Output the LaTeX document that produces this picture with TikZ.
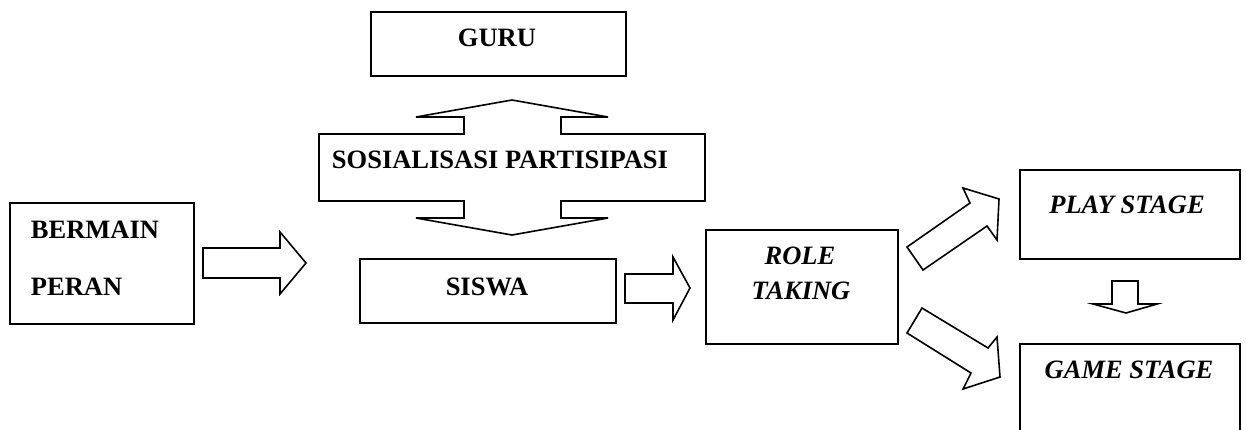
\documentclass[tikz,border=0pt]{standalone}
\usepackage{fontspec}
\setmainfont{Liberation Serif}
\begin{document}
\begin{tikzpicture}[x=1pt,y=-1pt,
  line width=1.8pt,
  box/.style={draw=black, line width=1.8pt, inner sep=0pt, anchor=north west},
  blockarrow/.style={draw=black, fill=white, line width=1.6pt, line join=miter},
  lbl/.style={inner sep=0pt, font=\fontsize{26.5}{30}\selectfont\bfseries},
  ilbl/.style={inner sep=0pt, font=\fontsize{26.5}{30}\selectfont\bfseries\itshape}]
\path[use as bounding box] (0,0) rectangle (1246,429);
\clip (0,0) rectangle (1246,429);
% boxes
\node[box, minimum width=255pt, minimum height=64pt] (guru) at (370,11) {};
\node[box, minimum width=184pt, minimum height=121pt] (bermain) at (9,202) {};
\node[box, minimum width=256pt, minimum height=64pt] (siswa) at (359,258) {};
\node[box, minimum width=192pt, minimum height=114pt] (role) at (705,229) {};
\node[box, minimum width=220pt, minimum height=89pt] (play) at (1019,169) {};
\node[box, minimum width=220pt, minimum height=120pt] (game) at (1019,343) {};
% double arrow (sosialisasi partisipasi)
\draw[blockarrow] (512,100) -- (608,117) -- (561,117) -- (561,134) -- (705,134) -- (705,201)
  -- (561,201) -- (561,218) -- (608,218) -- (512,235) -- (416,218) -- (464,218) -- (464,201)
  -- (319,201) -- (319,134) -- (464,134) -- (464,117) -- (416,117) -- cycle;
% horizontal arrows
\draw[blockarrow] (203,248) -- (280,248) -- (280,232) -- (306,263) -- (280,294) -- (280,278) -- (203,278) -- cycle;
\draw[blockarrow] (625,274) -- (673,274) -- (673,257) -- (690,288) -- (673,320) -- (673,303) -- (625,303) -- cycle;
% diagonal arrows
\draw[blockarrow] (907,247) -- (970,203) -- (963,188) -- (999,199) -- (997,240) -- (987,226) -- (923,270) -- cycle;
\draw[blockarrow] (922,308) -- (988,348) -- (997,337) -- (1000,377) -- (963,389) -- (971,373) -- (907,333) -- cycle;
% down arrow
\draw[blockarrow] (1112,281) -- (1138,281) -- (1138,304) -- (1157,304) -- (1126,313) -- (1093,304) -- (1112,304) -- cycle;
% labels
\node[lbl] (tguru) at (497,38) {GURU};
\node[lbl] (tsos) at (500,160) {SOSIALISASI PARTISIPASI};
\node[lbl, anchor=west] (tbermain) at (30,230) {BERMAIN};
\node[lbl, anchor=west] (tperan) at (30,287) {PERAN};
\node[lbl] (tsiswa) at (487,287) {SISWA};
\node[ilbl] (trole) at (800,256) {ROLE};
\node[ilbl] (ttaking) at (801,291) {TAKING};
\node[ilbl] (tplay) at (1127,205) {PLAY STAGE};
\node[ilbl] (tgame) at (1129,370) {GAME STAGE};
\end{tikzpicture}
\end{document}
